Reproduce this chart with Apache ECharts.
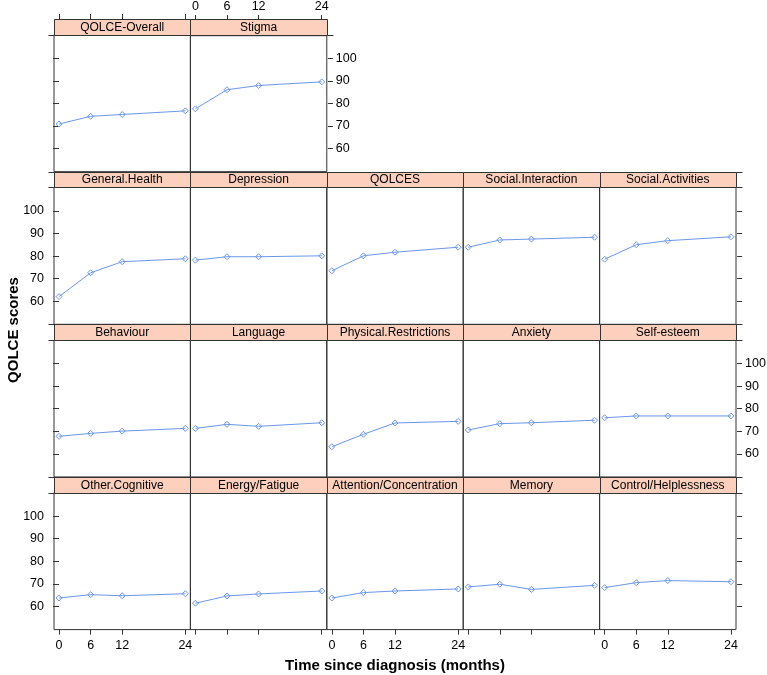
<!DOCTYPE html>
<html><head><meta charset="utf-8">
<script src="https://cdn.jsdelivr.net/npm/echarts@6/dist/echarts.min.js"></script>
<style>html,body{margin:0;padding:0;background:#fff}#c{width:767px;height:675px}</style>
</head><body><div id="c"></div>
<script>
// ---- data ----
const months = [0, 6, 12, 24];
const xTickValues = [0, 6, 12, 24];
const yTickValues = [60, 70, 80, 90, 100];
const panelNames = [
  'QOLCE-Overall', 'Stigma',
  'General.Health', 'Depression', 'QOLCES', 'Social.Interaction', 'Social.Activities',
  'Behaviour', 'Language', 'Physical.Restrictions', 'Anxiety', 'Self-esteem',
  'Other.Cognitive', 'Energy/Fatigue', 'Attention/Concentration', 'Memory', 'Control/Helplessness'
];
const qolceOverall = [70.9, 74.3, 75.1, 76.7];
const stigma = [77.8, 86.3, 88.2, 89.8];
const generalHealth = [62.1, 72.6, 77.5, 78.8];
const depression = [78.2, 79.7, 79.7, 80.1];
const qolces = [73.5, 80.1, 81.7, 83.9];
const socialInteraction = [83.9, 87.1, 87.5, 88.3];
const socialActivities = [78.6, 85.0, 86.8, 88.5];
const behaviour = [67.8, 69.1, 70.1, 71.3];
const language = [71.3, 73.1, 72.2, 73.8];
const physicalRestrictions = [63.2, 68.7, 73.7, 74.4];
const anxiety = [70.6, 73.4, 73.8, 74.9];
const selfEsteem = [76.0, 76.8, 76.8, 76.8];
const otherCognitive = [63.8, 65.3, 64.8, 65.7];
const energyFatigue = [61.5, 64.7, 65.6, 66.9];
const attentionConcentration = [63.8, 66.2, 66.9, 67.8];
const memory = [68.7, 69.9, 67.6, 69.4];
const controlHelplessness = [68.4, 70.6, 71.5, 71.0];
const panelValues = [
  qolceOverall, stigma,
  generalHealth, depression, qolces, socialInteraction, socialActivities,
  behaviour, language, physicalRestrictions, anxiety, selfEsteem,
  otherCognitive, energyFatigue, attentionConcentration, memory, controlHelplessness
];
const yTitle = 'QOLCE scores';
const xTitle = 'Time since diagnosis (months)';

// ---- layout ----
const rowCols = [2, 5, 5, 5];
const L0 = 54, CW = 136.4, T0 = 19, PERIOD = 152.65, SH = 15.7, PH = 136.95;
const X_MIN = -0.96, X_MAX = 24.96, Y_MIN = 49.85, Y_MAX = 110.35;
const LINE = '#6a97ea', AX = '#333', STRIP = '#fdd0bd';
const FONT = '"Liberation Sans", Arial, sans-serif';

const grids = [], xAxes = [], yAxes = [], series = [], graphics = [];
let gi = 0, pi = 0;
const cr = v => Math.round(v) + 0.5;
const tickStyle = {color: AX};
const labelStyle = {fontSize: 12.5, color: '#000', fontFamily: FONT};
for (let r = 0; r < rowCols.length; r++) {
  const n = rowCols[r];
  for (let c = 0; c < n; c++) {
    const left = L0 + c * CW;
    const stripTop = T0 + r * PERIOD;
    const top = stripTop + SH;
    grids.push({left: left, top: top, width: CW, height: PH, show: true,
      borderColor: AX, borderWidth: 1, backgroundColor: 'transparent'});
    // x axis
    const xa = {gridIndex: gi, type: 'value', min: X_MIN, max: X_MAX,
      splitLine: {show: false}, axisLine: {show: false}};
    if (r === 0) {
      Object.assign(xa, {position: 'top', offset: SH,
        axisTick: {show: true, length: 5, customValues: xTickValues, lineStyle: tickStyle},
        axisLabel: Object.assign({show: c === 1, customValues: xTickValues, margin: 7}, labelStyle)});
    } else if (r === rowCols.length - 1) {
      Object.assign(xa, {position: 'bottom',
        axisTick: {show: true, length: 5, customValues: xTickValues, lineStyle: tickStyle},
        axisLabel: Object.assign({show: c % 2 === 0, customValues: xTickValues, margin: 9}, labelStyle)});
    } else {
      xa.show = false;
    }
    xAxes.push(xa);
    // y axis
    const ya = {gridIndex: gi, type: 'value', min: Y_MIN, max: Y_MAX,
      splitLine: {show: false}, axisLine: {show: false}};
    if (c === 0) {
      Object.assign(ya, {position: 'left',
        axisTick: {show: true, length: 6, customValues: yTickValues, lineStyle: tickStyle},
        axisLabel: Object.assign({show: r % 2 === 1, customValues: yTickValues, margin: 10}, labelStyle)});
    } else {
      ya.show = false;
    }
    yAxes.push(ya);
    series.push({type: 'line', xAxisIndex: gi, yAxisIndex: gi,
      data: months.map((m, k) => [m, panelValues[pi][k]]),
      symbol: 'diamond', symbolSize: 6, showSymbol: true,
      lineStyle: {color: LINE, width: 1},
      itemStyle: {color: 'rgba(255,255,255,0)', borderColor: LINE, borderWidth: 1},
      emphasis: {disabled: true}, silent: true});
    gi++;
    // right-side axis: a thin helper grid just right of the last panel
    if (c === n - 1) {
      grids.push({left: left + CW, top: top, width: 30, height: PH, show: false});
      xAxes.push({gridIndex: gi, type: 'value', min: X_MIN, max: X_MAX, show: false});
      yAxes.push({gridIndex: gi, type: 'value', min: Y_MIN, max: Y_MAX, position: 'left',
        splitLine: {show: false}, axisLine: {show: false},
        axisTick: {show: true, inside: true, length: 5, customValues: yTickValues, lineStyle: tickStyle},
        axisLabel: Object.assign({show: r % 2 === 0, inside: true, customValues: yTickValues, margin: 9}, labelStyle)});
      gi++;
    }
    // strip
    const sx = cr(left), sy = cr(stripTop);
    const sw = cr(left + CW) - sx, sh = cr(top) - sy;
    graphics.push({type: 'rect', shape: {x: sx, y: sy, width: sw, height: sh},
      style: {fill: STRIP, stroke: AX, lineWidth: 1}, silent: true});
    graphics.push({type: 'text', style: {text: panelNames[pi], x: left + CW / 2, y: stripTop + SH / 2 + 0.5,
      align: 'center', verticalAlign: 'middle', font: '12px ' + FONT, fill: '#000'}, silent: true});
    const ext = [];
    if (c === 0) ext.push([sx - 6, sx]);
    if (c === n - 1) ext.push([sx + sw, sx + sw + 6]);
    ext.forEach(e => {
      const ys = r === 0 ? [sy + sh] : [sy, sy + sh];
      ys.forEach(yy => graphics.push({type: 'line', shape: {x1: e[0], y1: yy, x2: e[1], y2: yy},
        style: {stroke: AX, lineWidth: 1}, silent: true}));
    });
    pi++;
  }
}
graphics.push({type: 'text', rotation: Math.PI / 2, x: 14, y: 330,
  style: {text: yTitle, align: 'center', verticalAlign: 'middle', font: 'bold 15px ' + FONT, fill: '#000'}});
graphics.push({type: 'text', x: 395, y: 666,
  style: {text: xTitle, align: 'center', verticalAlign: 'middle', font: 'bold 15px ' + FONT, fill: '#000'}});

const chart = echarts.init(document.getElementById('c'), null, {renderer: 'canvas'});
chart.setOption({animation: false, backgroundColor: '#fff',
  grid: grids, xAxis: xAxes, yAxis: yAxes, series: series, graphic: graphics});
</script></body></html>
